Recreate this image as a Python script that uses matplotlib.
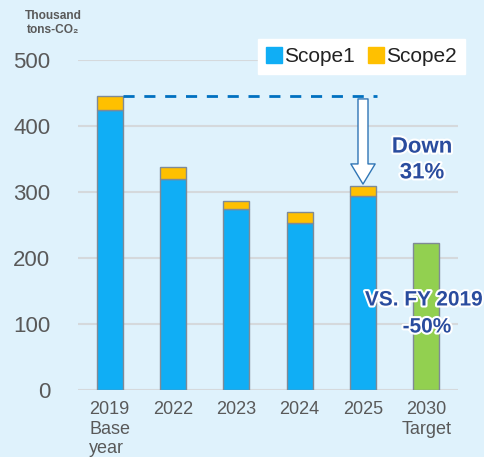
import matplotlib
matplotlib.use("Agg")
import matplotlib.pyplot as plt
from matplotlib.lines import Line2D
from matplotlib.patches import FancyArrowPatch
import matplotlib.patheffects as pe

categories = ["2019\nBase\nyear", "2022", "2023", "2024", "2025", "2030\nTarget"]
scope1 = [424, 320, 274, 253, 294, 0]
scope2 = [22, 18, 13, 16, 15, 0]
target = [0, 0, 0, 0, 0, 223]
yticks = [0, 100, 200, 300, 400, 500]

BG = "#DFF2FC"
BLUE = "#10AEF5"
GOLD = "#FFC000"
GREEN = "#92D050"
EDGE = "#7F8A96"
TXT = "#595959"
NAVY = "#2A4C9E"

fig = plt.figure(figsize=(4.84, 4.57), dpi=100, facecolor=BG)
ax = fig.add_axes([78/484, 1-390/457, 380/484, 330/457], facecolor=BG)

x = list(range(len(categories)))
w = 0.41
ax.bar(x[:5], scope1[:5], width=w, color=BLUE, edgecolor=EDGE, linewidth=1, zorder=3)
ax.bar(x[:5], scope2[:5], width=w, bottom=scope1[:5], color=GOLD, edgecolor=EDGE, linewidth=1, zorder=3)
ax.bar(x[5], target[5], width=w, color=GREEN, edgecolor=EDGE, linewidth=1, zorder=3)

ax.set_xlim(-0.5, 5.5)
ax.set_ylim(0, 500)
ax.set_yticks(yticks)
ax.yaxis.grid(True, color="#D5D9DC", linewidth=1.5, zorder=0)
ax.set_axisbelow(True)
for s in ax.spines.values():
    s.set_visible(False)
ax.tick_params(axis="both", length=0)
ax.tick_params(axis="y", labelsize=16, labelcolor=TXT, pad=20)
ax.set_yticklabels([str(v) for v in yticks], family="Liberation Sans")
ax.set_xticks(x)
ax.set_xticklabels(categories, fontsize=13, color=TXT, family="Liberation Sans", linespacing=1.2)
ax.tick_params(axis="x", pad=8)
for lab in ax.get_xticklabels():
    if "Base" in lab.get_text():
        lab.set_multialignment("left")

# baseline reference dashed line
base_total = scope1[0] + scope2[0]
ax.plot([w/2, 4.22], [base_total, base_total], color="#0070C0", linewidth=2,
        dashes=(4, 3.5), zorder=4)

# hollow down arrow
arr = FancyArrowPatch((4, 441), (4, scope1[4] + scope2[4] + 3),
                      arrowstyle="simple,head_width=1.75,head_length=1.45,tail_width=0.72",
                      mutation_scale=10, facecolor="white", edgecolor="#2F75B5",
                      linewidth=1.0, shrinkA=0, shrinkB=0, zorder=5)
ax.add_patch(arr)

glow = [pe.withStroke(linewidth=3, foreground="white")]
fig.text(422/484, 1-160/457, "Down\n31%", ha="center", va="center", fontsize=16,
         fontweight="bold", color=NAVY, family="Liberation Sans", linespacing=1.3,
         path_effects=glow)
fig.text(424/484, 1-300/457, "VS. FY 2019", ha="center", va="center", fontsize=15,
         fontweight="bold", color=NAVY, family="Liberation Sans", path_effects=glow)
fig.text(427/484, 1-327/457, "-50%", ha="center", va="center", fontsize=15,
         fontweight="bold", color=NAVY, family="Liberation Sans", path_effects=glow)

fig.text(53/484, 1-23/457, "Thousand\ntons-CO\u2082", ha="center", va="center", fontsize=8.6,
         fontweight="bold", color=TXT, family="Liberation Sans", linespacing=1.2)

handles = [Line2D([], [], marker="s", linestyle="none", markersize=11.5, color=BLUE),
           Line2D([], [], marker="s", linestyle="none", markersize=11.5, color=GOLD)]
leg = fig.legend(handles, ["Scope1", "Scope2"], loc="upper right",
                 bbox_to_anchor=(465/484, 1-39/457), ncol=2, frameon=True,
                 fancybox=False, framealpha=1, edgecolor="white", facecolor="white",
                 prop={"family": "Liberation Sans", "size": 15}, handlelength=0.8,
                 handletextpad=0.1, columnspacing=0.6, borderpad=0.38, borderaxespad=0)
for t in leg.get_texts():
    t.set_color("#222222")

fig.savefig("out.png", dpi=100, facecolor=BG)
